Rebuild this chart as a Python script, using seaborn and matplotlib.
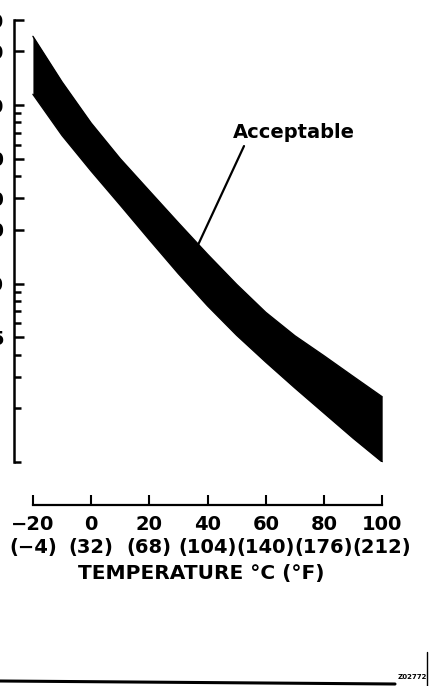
import matplotlib
matplotlib.use('Agg')
import matplotlib.pyplot as plt
import seaborn as sns
from matplotlib.ticker import FixedLocator, FixedFormatter, LogLocator, NullFormatter
from matplotlib.lines import Line2D

# band limits (log scale, values per temperature)
temps_c = [-20, -10, 0, 10, 20, 30, 40, 50, 60, 70, 80, 90, 100]
upper_limit = [243, 135, 79.4, 50.1, 33.1, 21.9, 14.6, 9.9, 6.9, 5.1, 3.94, 3.02, 2.32]
lower_limit = [115, 67.6, 42.7, 27.5, 17.6, 11.35, 7.5, 5.13, 3.63, 2.60, 1.88, 1.36, 1.0]

# axis ticks
tick_c = [-20, 0, 20, 40, 60, 80, 100]
tick_c_text = ['−20', '0', '20', '40', '60', '80', '100']
tick_f_text = ['(−4)', '(32)', '(68)', '(104)', '(140)', '(176)', '(212)']
y_label_values = [5, 10, 20, 30, 50, 100, 200, 300]
y_label_text = ['5', '10', '20', '30', '50', '100', '200', '300']

sns.set_theme(style='white', rc={'axes.edgecolor': 'black', 'xtick.color': 'black',
                                 'ytick.color': 'black', 'text.color': 'black',
                                 'axes.labelcolor': 'black'})
plt.rcParams['font.family'] = ['DejaVu Sans']

fig = plt.figure(figsize=(4.3, 6.86), dpi=100)
ax = fig.add_axes([14 / 430, 1 - 462 / 686, (388 - 14) / 430, (462 - 20) / 686])

# band edges and fill
sns.lineplot(x=temps_c, y=upper_limit, ax=ax, color='black', lw=1)
sns.lineplot(x=temps_c, y=lower_limit, ax=ax, color='black', lw=1)
ax.fill_between(temps_c, lower_limit, upper_limit, color='black', lw=0)

ax.set_yscale('log')
ax.set_ylim(1, 300)
ax.set_xlim(-26.5, 102)

# spines
ax.spines['top'].set_visible(False)
ax.spines['right'].set_visible(False)
ax.spines['left'].set_linewidth(1.8)
ax.spines['bottom'].set_linewidth(1.6)
ax.spines['bottom'].set_position(('outward', 31))
ax.spines['bottom'].set_bounds(-20, 100)

# x ticks: °C with °F underneath
ax.set_xticks(tick_c)
ax.set_xticklabels([c + '\n' + f for c, f in zip(tick_c_text, tick_f_text)])
ax.tick_params(axis='x', bottom=True, direction='in', length=7, width=1.5,
               pad=7, labelsize=14)
for lbl in ax.get_xticklabels():
    lbl.set_fontweight('bold')
    lbl.set_linespacing(1.3)

# y ticks: labels sit mostly off the left edge, like the scan
ax.yaxis.set_major_locator(FixedLocator(y_label_values))
ax.yaxis.set_major_formatter(FixedFormatter(y_label_text))
ax.yaxis.set_minor_locator(LogLocator(base=10, subs=range(1, 10), numticks=20))
ax.yaxis.set_minor_formatter(NullFormatter())
ax.tick_params(axis='y', which='major', left=True, direction='in', length=7,
               width=1.8, pad=7, labelsize=14)
ax.tick_params(axis='y', which='minor', left=True, direction='in', length=5,
               width=1.8)
for lbl in ax.get_yticklabels():
    lbl.set_fontweight('bold')

ax.set_xlabel('TEMPERATURE °C (°F)', fontsize=14.5, fontweight='bold', labelpad=5)

ax.annotate('Acceptable', xy=(36.3, 15.9), xytext=(69.6, 70.7),
            ha='center', va='center', fontsize=14, fontweight='bold',
            arrowprops=dict(arrowstyle='-', color='black', lw=1.6,
                            shrinkA=1, shrinkB=0, relpos=(0.11, 0.0)))

# frame bits at the bottom of the scan
fig.add_artist(Line2D([0, 395 / 430], [1 - 681 / 686, 1 - 684 / 686],
                      transform=fig.transFigure, color='black', lw=2.2))
fig.add_artist(Line2D([427 / 430, 427 / 430], [1 - 652 / 686, 0],
                      transform=fig.transFigure, color='black', lw=1))
fig.text(412 / 430, 1 - 677 / 686, 'Z02772', fontsize=5, fontweight='bold',
         ha='center', va='center')

fig.savefig('out.png', dpi=100)
